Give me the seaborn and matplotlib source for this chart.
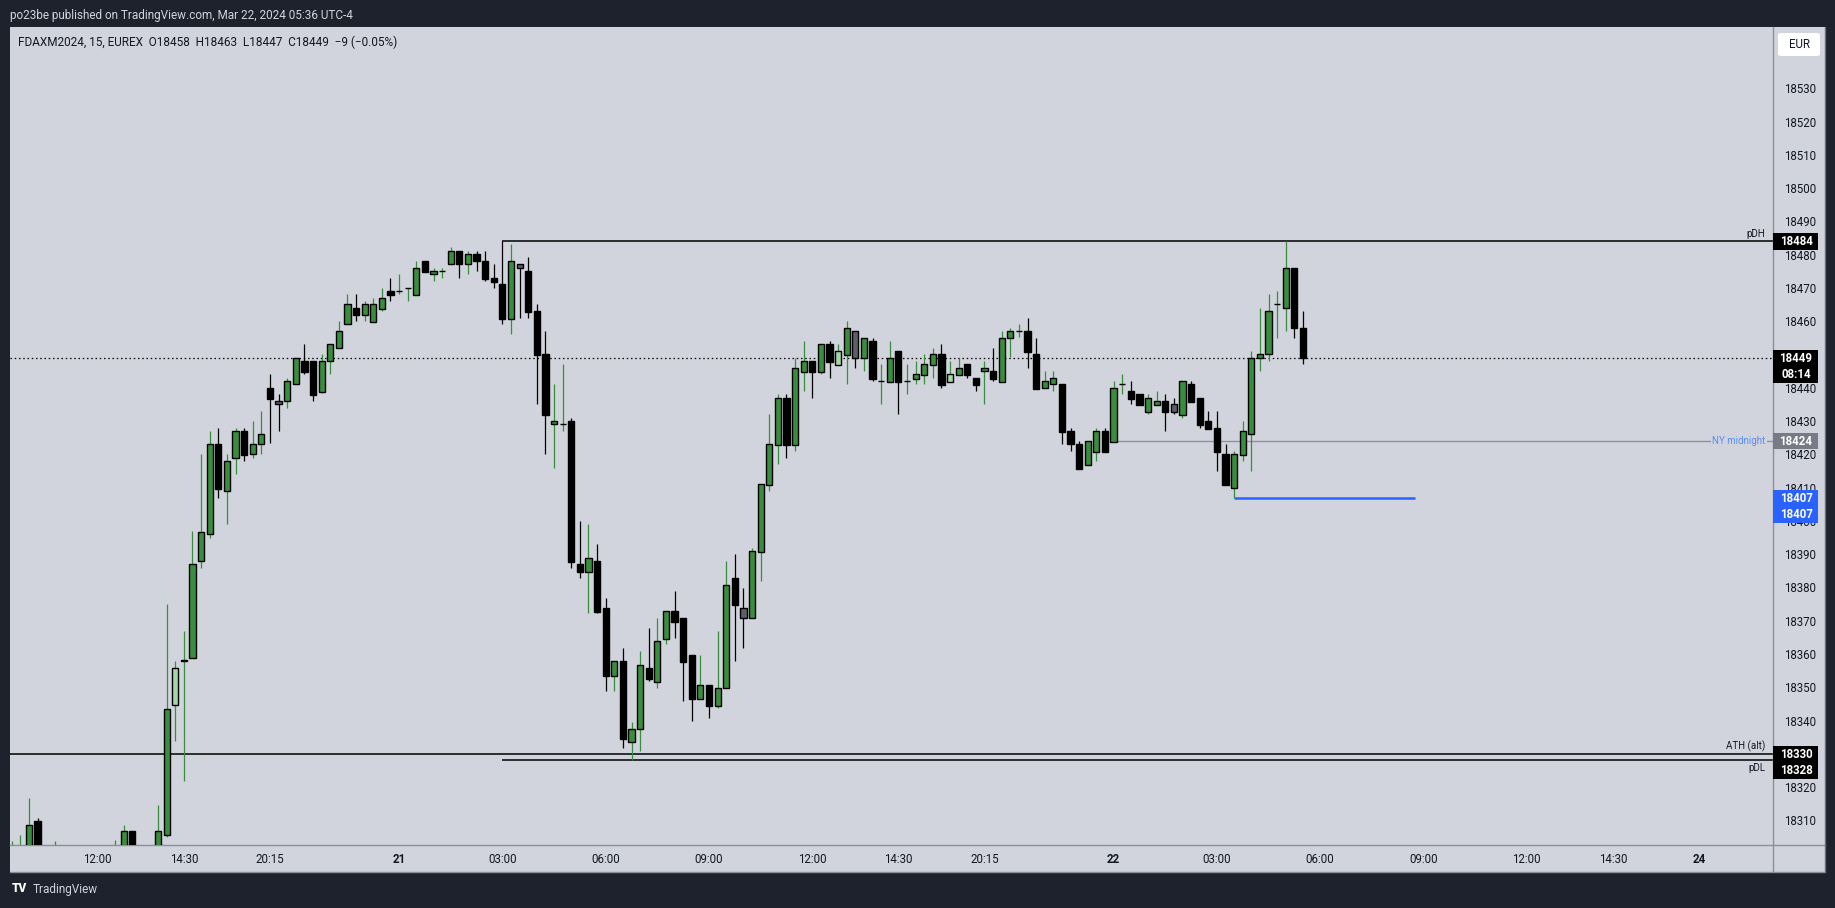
import numpy as np
import pandas as pd
import matplotlib
matplotlib.use("Agg")
import matplotlib.pyplot as plt
import seaborn as sns
from matplotlib.patches import Rectangle, FancyBboxPatch
from matplotlib.lines import Line2D
import matplotlib.transforms as mtrans

sns.set_theme(style="white")
plt.rcParams["font.family"] = ["Roboto", "DejaVu Sans"]

# ---------------- data (15-minute bars, index 0 = Mar 21 00:00 NY) ----------------
first_bar = -45
opens = [18296, 18298, 18300, 18309.7, 18301, 18296, 18299, 18294, 18290, 18295,
         18292, 18296, 18297, 18299, 18306.7, 18298, 18295, 18300,
         18305.6, 18344.6, 18358, 18358.7, 18387.8, 18396, 18423.1, 18408.9, 18418.8, 18426.9,
         18420, 18423, 18439.9, 18435.9, 18435.9, 18441, 18448, 18448, 18438.8, 18447.9,
         18451.9, 18459.1, 18463.9, 18462, 18459.9, 18463.8, 18469.1,
         18469, 18469.9, 18468, 18478, 18474.1, 18475, 18477.1, 18481, 18477.1, 18480.1,
         18478, 18472.9, 18471.1, 18460.8, 18477.1, 18475, 18463, 18450, 18429, 18429,
         18430, 18386.9, 18384.7, 18387.8, 18373.7, 18353.4, 18357.8, 18333.6, 18337.5, 18355.7,
         18351.6, 18364.6, 18372.8, 18370.7, 18359.6, 18346.5, 18350.6, 18344.4, 18349.7, 18382.7,
         18373.7, 18370.7, 18390.7, 18410.9, 18422.9, 18436.8, 18422.9, 18444.8, 18447.9, 18444.8,
         18453, 18446.9, 18449.9, 18457, 18448.8, 18454, 18441.9, 18441.8, 18451, 18441.9,
         18442.7, 18443.9, 18446.9, 18450, 18441.8, 18443.9, 18447, 18442.8, 18444.9, 18444.9,
         18441.8, 18454.9, 18457, 18457, 18450, 18439.8, 18441, 18441, 18427, 18423,
         18416.9, 18420.8, 18426.9, 18423.8, 18441, 18438.9, 18438, 18432.8, 18434.9, 18435.9,
         18435, 18431.9, 18441, 18436.8, 18429.9, 18427.8, 18420, 18409.8, 18419.9, 18426,
         18448.8, 18450, 18465.1, 18463.9, 18475.9, 18458]
highs = [18303.8, 18305.6, 18316.7, 18310.7, 18302, 18303.7, 18301, 18298, 18297, 18299,
         18298, 18301, 18304, 18308.6, 18306.7, 18301, 18301.5, 18314.6,
         18375, 18357.9, 18367, 18396.9, 18420, 18427, 18427.8, 18420, 18427.8, 18427.8,
         18430, 18433, 18444.1, 18438.1, 18442.9, 18448.8, 18453.1, 18448, 18450.1, 18453,
         18460, 18468.2, 18468.2, 18466.1, 18467, 18470, 18473,
         18474.2, 18469.9, 18478.1, 18478, 18475.9, 18475.9, 18482.2, 18481, 18481, 18481,
         18481, 18477.1, 18484, 18483.2, 18477.1, 18479.2, 18465.1, 18457, 18441.1, 18447.1,
         18430.9, 18400, 18399, 18393, 18376.7, 18357.8, 18361.7, 18339.7, 18360.9, 18367.7,
         18370.7, 18372.8, 18378.8, 18370.7, 18359.6, 18359.7, 18350.6, 18366.9, 18387.9, 18389.9,
         18379.7, 18391.8, 18411, 18432.1, 18438.1, 18438.1, 18448.8, 18454, 18447.9, 18453,
         18454, 18453, 18460, 18457, 18454.9, 18454.9, 18447.1, 18454, 18451, 18447.1,
         18448, 18450.1, 18451.9, 18453.1, 18448, 18448.9, 18447, 18442.8, 18448, 18451.9,
         18457, 18457.9, 18459.2, 18461, 18454.9, 18445, 18445, 18441, 18427.8, 18424,
         18423.9, 18427.8, 18427.8, 18441.9, 18444.1, 18441.9, 18438, 18438, 18439, 18438.1,
         18436.8, 18441.9, 18441.9, 18436.8, 18433, 18433, 18423.1, 18421, 18430, 18451,
         18464, 18468.2, 18469.1, 18484.1, 18475.9, 18463]
lows = [18293, 18295, 18298, 18299, 18294, 18293, 18292, 18288, 18287, 18290,
        18289, 18293, 18294, 18297, 18296, 18292, 18292, 18298,
        18304.9, 18333.9, 18321.9, 18358.7, 18385.9, 18394.9, 18407, 18399.1, 18414.2, 18418,
        18419, 18420, 18423.3, 18427.1, 18434, 18441, 18444.2, 18436.1, 18438.5, 18444.1,
        18451.9, 18459.1, 18460.2, 18460.2, 18459.9, 18463.2, 18466.1,
        18468.2, 18466.1, 18468, 18474.9, 18472.1, 18473, 18477.1, 18473, 18474.2, 18475.1,
        18472.2, 18470.1, 18459.2, 18456.2, 18461.1, 18461.1, 18435.2, 18420.2, 18416, 18427.1,
        18385.9, 18382.9, 18372.2, 18372.2, 18348.9, 18348.9, 18331.8, 18328, 18330.8, 18351.9,
        18349.8, 18363.1, 18364.9, 18345.9, 18339.9, 18346.5, 18340.8, 18343.9, 18349.7, 18357.9,
        18361.9, 18370.7, 18382, 18409, 18417.2, 18419, 18421.1, 18439.1, 18437, 18444.2,
        18443, 18446.9, 18441.2, 18446, 18445, 18442, 18435.1, 18441.8, 18432.1, 18438.1,
        18441.2, 18441.2, 18443, 18440, 18441.8, 18443.9, 18443, 18439.1, 18435.1, 18442.1,
        18441.8, 18449.1, 18455.2, 18446, 18439.7, 18439.8, 18439.1, 18423.2, 18421.1, 18415.7,
        18416.9, 18418.1, 18420.8, 18423.8, 18438.1, 18435.2, 18434.9, 18432.2, 18434.9, 18427.1,
        18432.2, 18431, 18435.8, 18428, 18427.7, 18415, 18410.9, 18407, 18418.1, 18415,
        18445.1, 18448.1, 18455, 18457.1, 18455, 18447]
closes = [18300, 18301, 18308.5, 18301, 18296, 18299, 18294, 18290, 18295, 18292,
          18296, 18299, 18300, 18306.7, 18298, 18295, 18300, 18306.7,
          18343.6, 18355.7, 18358, 18386.9, 18396.7, 18423.1, 18409.7, 18417.9, 18426.9, 18419.9,
          18423, 18426, 18436.7, 18435, 18441.9, 18448.8, 18444.8, 18437.9, 18447.9, 18453,
          18457, 18465.1, 18462, 18465.1, 18465.1, 18466.9, 18468,
          18469, 18469.9, 18475.9, 18474.9, 18475, 18475, 18481, 18477.1, 18480.1, 18478,
          18472.8, 18471.9, 18460.8, 18478, 18475.9, 18462.9, 18449.9, 18431.9, 18429.9, 18429,
          18387.7, 18384.7, 18388.7, 18372.7, 18353.4, 18357.8, 18334.5, 18337.6, 18356.6, 18352.5,
          18363.8, 18372.8, 18369.7, 18357.6, 18346.5, 18350.6, 18344.4, 18349.7, 18380.8, 18374.8,
          18370.7, 18390.8, 18411, 18423, 18436.8, 18422.9, 18445.8, 18447.9, 18444.8, 18453,
          18447.8, 18451, 18457.9, 18448.8, 18454.9, 18442.7, 18441.9, 18448.8, 18441.8, 18441.9,
          18444, 18447, 18450, 18440.9, 18444, 18445.8, 18443.9, 18440.9, 18445.8, 18442.7,
          18454.9, 18457, 18457, 18450.8, 18439.7, 18441.9, 18442.8, 18426.8, 18423, 18415.7,
          18423.9, 18426.9, 18420.8, 18439.8, 18441, 18436.7, 18434.9, 18436.8, 18435.9, 18432.8,
          18432.8, 18441.9, 18435.8, 18428.9, 18427.7, 18420.8, 18410.9, 18420, 18426.9, 18448.8,
          18450, 18463, 18465.1, 18475.9, 18457.9, 18449]
kinds = (["G", "G", "G", "B", "B", "G", "B", "B", "G", "B",
          "G", "G", "G", "G", "B", "B", "G", "G",
          "G", "LG", "G", "G", "G", "G", "B", "G", "G", "B",
          "G", "G", "B", "GR", "G", "G", "B", "B", "G", "G",
          "G", "G", "B", "G", "G", "G", "B",
          "G", "G", "G", "B", "G", "G", "G", "B", "G", "B",
          "B", "B", "B", "G", "GR", "B", "B", "B", "G", "G",
          "B", "B", "G", "B", "B", "G", "B", "G", "G", "B",
          "G", "G", "B", "B", "B", "G", "B", "G", "G", "B",
          "GR", "G", "G", "G", "G", "B", "G", "G", "B", "G",
          "B", "LG", "G", "GR", "G", "B", "G", "G", "B", "G",
          "G", "G", "G", "B", "LG", "G", "B", "B", "G", "B",
          "G", "G", "G", "B", "B", "G", "G", "B", "B", "B",
          "G", "G", "B", "G", "G", "B", "B", "G", "G", "B",
          "GR", "G", "B", "B", "B", "B", "B", "G", "G", "G",
          "G", "G", "G", "G", "B", "B"])

tick_bars = [-35, -25, -15, 0, 12, 24, 36, 48, 58, 68, 83, 95, 107, 119, 131, 141, 151]
tick_labels = ["12:00", "14:30", "20:15", "21", "03:00", "06:00", "09:00", "12:00", "14:30",
               "20:15", "22", "03:00", "06:00", "09:00", "12:00", "14:30", "24"]
day_labels = ["21", "22", "24"]
price_ticks = list(range(18310, 18531, 10))

pdh, pdl, ath_alt, ny_midnight, last_price, low_ray = 18484, 18328, 18330, 18424, 18449, 18407
pdh_start, ny_start, ray_start, ray_end = 12, 83, 97, 118

header = "po23be published on TradingView.com, Mar 22, 2024 05:36 UTC-4"
legend = "FDAXM2024, 15, EUREX  O18458  H18463  L18447  C18449  \u22129 (\u22120.05%)"

df = pd.DataFrame({"bar": np.arange(first_bar, first_bar + len(opens)),
                   "open": opens, "high": highs, "low": lows, "close": closes, "kind": kinds})

# ---------------- figure ----------------
W, H = 1835, 908
DARK = "#1e222d"
PANEL = "#d1d4dc"
TXT = "#131722"
BORDER = "#8c8f99"

fig = plt.figure(figsize=(W / 100, H / 100), dpi=100, facecolor=DARK)

def fx(px):
    return px / W

def fy(py):
    return 1 - py / H

fig.patches.append(Rectangle((fx(10), fy(872)), fx(1825) - fx(10), fy(27) - fy(872),
                             transform=fig.transFigure, facecolor=PANEL, edgecolor="none",
                             zorder=-5))

ax = fig.add_axes([fx(10), fy(845), fx(1773) - fx(10), fy(27) - fy(845)])
ax.set_facecolor(PANEL)
ax.set_xlim(-45.2, 159.6)
ax.set_ylim(18302.6, 18548.4)

body_col = {"G": "#388e3c", "B": "#000000", "LG": "#a5d6a7", "GR": "#5d606b"}
wick_col = {"G": "#388e3c", "B": "#000000", "LG": "#388e3c", "GR": "#000000"}

ax.vlines(df["bar"], df["low"], df["high"], colors=[wick_col[k] for k in df["kind"]],
          linewidth=0.9, zorder=3)
bottoms = np.minimum(df["open"], df["close"])
heights = np.maximum(np.abs(df["close"] - df["open"]), 0.05)
ax.bar(df["bar"], heights, bottom=bottoms, width=0.72,
       color=[body_col[k] for k in df["kind"]], edgecolor="black", linewidth=1.0, zorder=4)

# horizontal levels
xmax = 159.6
ax.hlines(pdh, pdh_start, xmax, color="black", linewidth=1.1, zorder=2)
ax.hlines(pdl, pdh_start, xmax, color="black", linewidth=1.1, zorder=2)
ax.axhline(ath_alt, color="black", linewidth=1.1, zorder=2)
ax.hlines(ny_midnight, ny_start, xmax, color="#8f929c", linewidth=1.0, zorder=2)
ax.hlines(low_ray, ray_start, ray_end, color="#2962ff", linewidth=1.8, zorder=2)
ax.axhline(last_price, color="black", linewidth=0.9, linestyle=(0, (1.2, 2.2)), zorder=2)

lab_x = xmax - 0.9
ax.text(lab_x, pdh, "pDH", ha="right", va="bottom", fontsize=7, color=TXT,
        transform=mtrans.offset_copy(ax.transData, fig=fig, y=2, units="dots"))
ax.text(lab_x, ath_alt, "ATH (alt)", ha="right", va="bottom", fontsize=7, color=TXT,
        transform=mtrans.offset_copy(ax.transData, fig=fig, y=2, units="dots"))
ax.text(lab_x, pdl, "pDL", ha="right", va="top", fontsize=7, color=TXT,
        transform=mtrans.offset_copy(ax.transData, fig=fig, y=-3, units="dots"))
ax.text(lab_x, ny_midnight, "NY midnight", ha="right", va="center", fontsize=7, color="#5b8def",
        bbox=dict(boxstyle="square,pad=0.15", facecolor=PANEL, edgecolor="none"), zorder=3)

# axes styling
for s in ["top", "left"]:
    ax.spines[s].set_visible(False)
for s in ["bottom", "right"]:
    ax.spines[s].set_color(BORDER)
    ax.spines[s].set_linewidth(1.0)
ax.yaxis.tick_right()
ax.set_yticks(price_ticks)
ax.set_yticklabels([str(p) for p in price_ticks])
ax.tick_params(axis="y", length=0, pad=8, labelsize=8.3, labelcolor=TXT)
ax.set_xticks(tick_bars)
ax.set_xticklabels(tick_labels)
ax.tick_params(axis="x", length=0, pad=6, labelsize=8.3, labelcolor=TXT)
for t in ax.get_xticklabels():
    if t.get_text() in day_labels:
        t.set_fontweight("bold")
ax.grid(False)

# panel borders
fig.lines.append(Line2D([fx(1773), fx(1773)], [fy(845), fy(872)], transform=fig.transFigure,
                        color=BORDER, linewidth=1.0))
fig.lines.append(Line2D([fx(1773), fx(1825)], [fy(845), fy(845)], transform=fig.transFigure,
                        color=BORDER, linewidth=1.0))
fig.lines.append(Line2D([fx(10), fx(1825)], [fy(872), fy(872)], transform=fig.transFigure,
                        color=BORDER, linewidth=1.0))
fig.lines.append(Line2D([fx(1825), fx(1825)], [fy(27), fy(872)], transform=fig.transFigure,
                        color="#6a6d78", linewidth=1.0))

# price labels on the axis
fig.canvas.draw()

def price_pix(p):
    return H - ax.transData.transform((0, p))[1]

def price_box(p, lines, color):
    top = price_pix(p) - 8
    hbox = 16.5 * len(lines)
    fig.patches.append(Rectangle((fx(1773), fy(top + hbox)), fx(1818) - fx(1773), hbox / H,
                                 transform=fig.transFigure, facecolor=color, edgecolor="none",
                                 zorder=5))
    for j, s in enumerate(lines):
        fig.text(fx(1796), fy(top + 8.5 + 16.5 * j), s, ha="center", va="center", color="white",
                 fontsize=8.3, fontweight="bold", zorder=6)

price_box(pdh, [str(pdh)], "black")
price_box(last_price, [str(last_price), "08:14"], "black")
price_box(ny_midnight, [str(ny_midnight)], "#787b86")
price_box(low_ray, [str(low_ray), str(low_ray)], "#2962ff")
price_box(ath_alt, [str(ath_alt), str(pdl)], "black")

# EUR box
fig.patches.append(FancyBboxPatch((fx(1778), fy(56)), fx(1820) - fx(1778), 23 / H,
                                  boxstyle="round,pad=0,rounding_size=0.002",
                                  transform=fig.transFigure, facecolor="white",
                                  edgecolor="none", zorder=5))
fig.text(fx(1799), fy(44), "EUR", ha="center", va="center", fontsize=8.3, color=TXT, zorder=6)

# header / legend / footer
fig.text(fx(10), fy(15), header, ha="left", va="center", fontsize=8.5, color="#d1d4dc")
fig.text(fx(18), fy(42), legend, ha="left", va="center", fontsize=8.5, color=TXT)
fig.text(fx(12), fy(889), "TV", ha="left", va="center", fontsize=8.5, color="white",
         fontweight="heavy")
fig.text(fx(33), fy(889), "TradingView", ha="left", va="center", fontsize=8.5, color="#d1d4dc")

fig.savefig("out.png", dpi=100, facecolor=DARK)
